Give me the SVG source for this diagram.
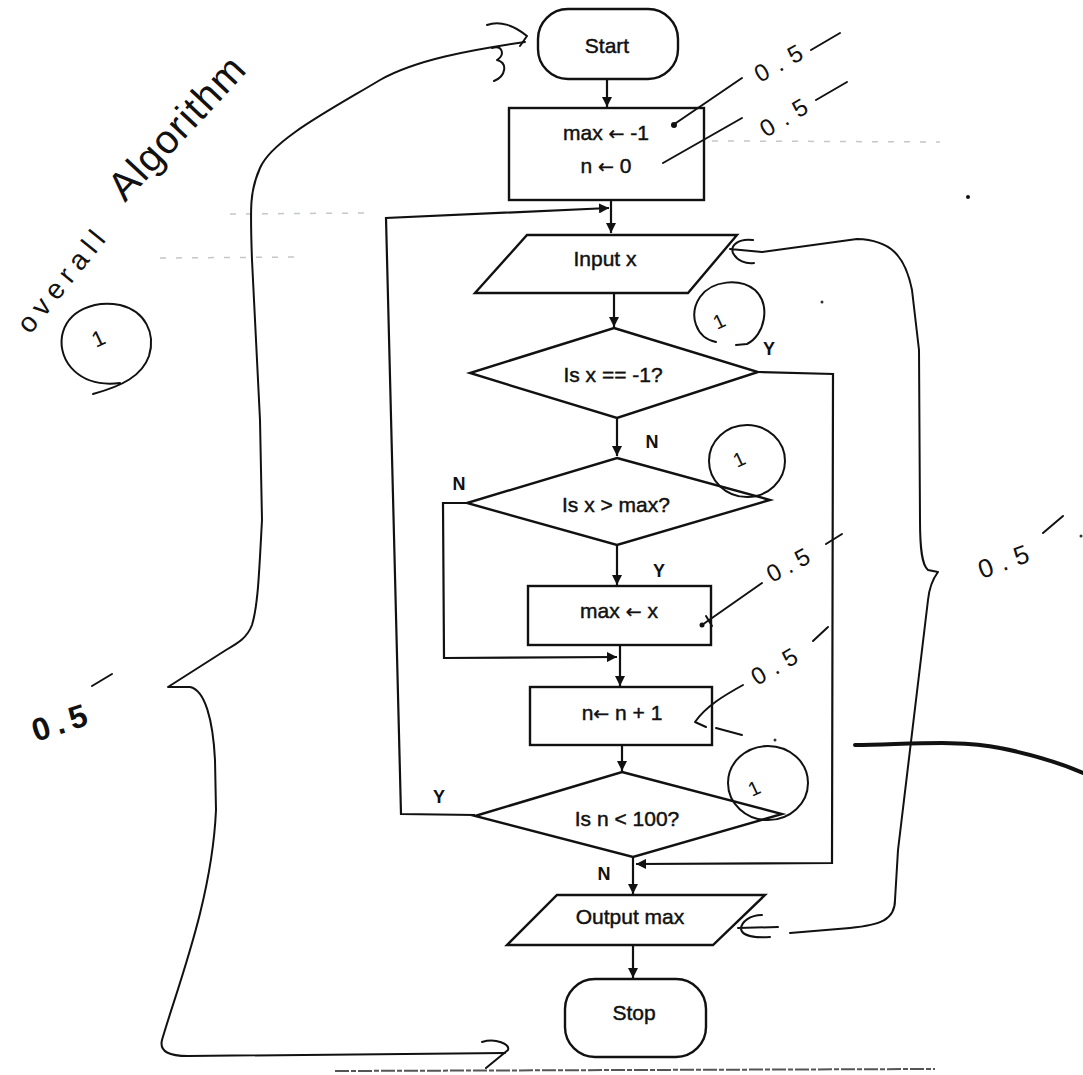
<svg xmlns="http://www.w3.org/2000/svg" width="1083" height="1075" viewBox="0 0 1083 1075">
<style>
.shape{fill:#fff;stroke:#111;stroke-width:2.4;stroke-linejoin:miter}
.lbl{font-family:"Liberation Sans",Arial,sans-serif;font-size:21px;fill:#111;text-anchor:middle;stroke:#111;stroke-width:0.45}
.arr{font-family:"DejaVu Sans",sans-serif;font-size:19px}
.yn{font-family:"Liberation Sans",Arial,sans-serif;font-size:18px;font-weight:bold;fill:#111;text-anchor:middle}
.conn{fill:none;stroke:#111;stroke-width:2.2}
.ink{fill:none;stroke:#111;stroke-width:2;stroke-linecap:round;stroke-linejoin:round}
.hand{font-family:"Liberation Sans",Arial,sans-serif;fill:#111}
.faint{fill:none;stroke:#9aa3ad;stroke-width:1.5;stroke-dasharray:6 10;opacity:0.6}
</style>
<defs>
<marker id="ah" viewBox="0 0 10 10" refX="10" refY="5" markerWidth="10" markerHeight="10" markerUnits="userSpaceOnUse" orient="auto">
<path d="M0,0 L10,5 L0,10 Z" fill="#111"/>
</marker>
</defs>
<rect width="1083" height="1075" fill="#fff"/>

<!-- scan artifacts -->
<g id="artifacts">
<path class="faint" d="M520,140 L940,142"/>
<path class="faint" d="M230,214 L367,213"/>
<path class="faint" d="M160,258 L300,257"/>
<path d="M335,1071 L935,1069" fill="none" stroke="#555" stroke-width="2" stroke-dasharray="14 2 5 2"/>
<circle cx="968" cy="197" r="2" fill="#111"/>
<circle cx="822" cy="302" r="1.5" fill="#333"/>
<circle cx="1081" cy="536" r="1.5" fill="#333"/>
<circle cx="775" cy="740" r="1.5" fill="#333"/>
<circle cx="582" cy="697" r="1.5" fill="#111"/>
</g>

<g id="connectors">
<path class="conn" d="M607,79 L607,107" marker-end="url(#ah)"/>
<path class="conn" d="M611,200 L611,233" marker-end="url(#ah)"/>
<path class="conn" d="M614,293 L614,327" marker-end="url(#ah)"/>
<path class="conn" d="M617,418 L617,456" marker-end="url(#ah)"/>
<path class="conn" d="M758,372 L833,374 L832,863 L636,864" marker-end="url(#ah)"/>
<path class="conn" d="M617,545 L617,585" marker-end="url(#ah)"/>
<path class="conn" d="M467,503 L443,503 L444,658 L617,657" marker-end="url(#ah)"/>
<path class="conn" d="M620,645 L620,686" marker-end="url(#ah)"/>
<path class="conn" d="M622,745 L622,771" marker-end="url(#ah)"/>
<path class="conn" d="M475,815 L401,814 L386,218 L609,208" marker-end="url(#ah)"/>
<path class="conn" d="M633,857 L633,894" marker-end="url(#ah)"/>
<path class="conn" d="M633,945 L633,978" marker-end="url(#ah)"/>
<text class="yn" x="769" y="355">Y</text>
<text class="yn" x="652" y="448">N</text>
<text class="yn" x="459" y="490">N</text>
<text class="yn" x="659" y="577">Y</text>
<text class="yn" x="439" y="803">Y</text>
<text class="yn" x="604" y="880">N</text>
</g>

<g id="start">
<rect class="shape" x="538" y="9" width="140" height="70" rx="30"/>
<text class="lbl" x="607" y="53">Start</text>
</g>
<g id="init">
<rect class="shape" x="509" y="108" width="195" height="92"/>
<text class="lbl" x="606" y="140">max <tspan class="arr">←</tspan> -1</text>
<text class="lbl" x="606" y="173">n <tspan class="arr">←</tspan> 0</text>
</g>
<g id="input">
<polygon class="shape" points="527,235 737,235 688,293 475,293"/>
<text class="lbl" x="605" y="266">Input x</text>
</g>
<g id="check-end">
<polygon class="shape" points="614,328 758,372 617,418 470,373"/>
<text class="lbl" x="613" y="382">Is x == -1?</text>
</g>
<g id="check-max">
<polygon class="shape" points="617,458 770,500 617,545 467,503"/>
<text class="lbl" x="616" y="512">Is x &gt; max?</text>
</g>
<g id="set-max">
<rect class="shape" x="528" y="586" width="183" height="59"/>
<text class="lbl" x="619" y="618">max <tspan class="arr">←</tspan> x</text>
</g>
<g id="inc">
<rect class="shape" x="530" y="687" width="182" height="58"/>
<text class="lbl" x="622" y="720">n<tspan class="arr">←</tspan> n + 1</text>
</g>
<g id="check-count">
<polygon class="shape" points="622,772 782,814 633,857 475,816"/>
<text class="lbl" x="627" y="826">Is n &lt; 100?</text>
</g>
<g id="output">
<polygon class="shape" points="557,895 765,895 713,945 507,945"/>
<text class="lbl" x="630" y="924">Output max</text>
</g>
<g id="stop">
<rect class="shape" x="565" y="979" width="141" height="78" rx="30"/>
<text class="lbl" x="634" y="1020">Stop</text>
</g>

<g id="annotations">
<!-- left brace -->
<path class="ink" d="M525,42 C470,50 415,60 380,80 C330,110 272,140 260,168 C250,190 250,205 252,260 L260,420 L262,520 C259,575 258,605 252,625 C247,638 238,643 226,650 L168,687 L190,687 C205,690 213,720 215,760 L216,810 C212,900 178,985 162,1040 C159,1052 170,1056 188,1056 L505,1053"/>
<path class="ink" d="M487,25 C500,20 515,26 527,36 L520,46 M492,48 C503,45 505,55 497,60 C508,63 506,76 494,81"/>
<path class="ink" d="M482,1042 C496,1038 510,1044 508,1050 L486,1068"/>
<!-- right brace -->
<path class="ink" d="M762,252 L857,239 C890,240 905,255 912,290 L919,350 L920,520 C920,550 922,565 928,570 L938,572 C932,580 929,590 928,600 L898,850 L895,900 C895,920 880,925 850,928 L790,933"/>
<path class="ink" d="M753,240 C738,238 730,246 733,253 C737,261 746,264 754,263 M730,249 L762,252"/>
<path class="ink" d="M762,915 C750,915 741,922 741,929 C742,936 755,938 770,937 M738,928 L778,927"/>
<!-- score pointers -->
<path class="ink" d="M673,125 L742,78"/>
<circle cx="674" cy="125" r="3" fill="#111"/>
<path class="ink" d="M663,163 L742,118"/>
<path class="ink" d="M702,625 L762,583 M706,616 L712,626"/>
<circle cx="702" cy="625" r="2.5" fill="#111"/>
<path class="ink" d="M743,685 C725,695 706,706 695,722 L706,727 M716,728 L742,735"/>
<path d="M855,745 C900,745 960,739 1000,748 C1040,756 1065,765 1083,773" fill="none" stroke="#111" stroke-width="4" stroke-linecap="round"/>
<!-- circled 1s -->
<path class="ink" d="M120,383 C80,388 58,362 62,336 C67,310 95,300 120,305 C145,311 156,333 149,356 C142,376 122,386 93,394"/>
<text class="hand" font-size="22" transform="translate(96,348) rotate(-25)">1</text>
<path class="ink" d="M716,342 C696,338 688,315 700,297 C712,280 740,278 755,290 C771,305 765,335 747,344 L736,345"/>
<text class="hand" font-size="20" transform="translate(717,330) rotate(-25)">1</text>
<ellipse class="ink" cx="747" cy="461" rx="38" ry="36"/>
<text class="hand" font-size="20" transform="translate(737,468) rotate(-25)">1</text>
<ellipse class="ink" cx="768" cy="783" rx="40" ry="37"/>
<text class="hand" font-size="20" transform="translate(752,797) rotate(-25)">1</text>
<!-- handwritten texts -->
<text class="hand" font-size="28" textLength="122" lengthAdjust="spacing" transform="translate(30,335) rotate(-51)">overall</text>
<text class="hand" font-size="40" textLength="180" lengthAdjust="spacing" transform="translate(125,203) rotate(-47)">Algorithm</text>
<text class="hand" font-size="24" letter-spacing="9" transform="translate(760,83) rotate(-29)">0.5</text>
<path class="ink" d="M811,50 L840,33"/>
<text class="hand" font-size="24" letter-spacing="9" transform="translate(766,138) rotate(-31)">0.5</text>
<path class="ink" d="M816,100 L847,82"/>
<text class="hand" font-size="24" letter-spacing="6" transform="translate(772,583) rotate(-28)">0.5</text>
<path class="ink" d="M826,544 L842,534"/>
<text class="hand" font-size="24" letter-spacing="8" transform="translate(757,686) rotate(-30)">0.5</text>
<path class="ink" d="M813,641 L828,627"/>
<text class="hand" font-size="26" letter-spacing="8" transform="translate(982,579) rotate(-20)">0.5</text>
<path class="ink" d="M1043,533 L1063,516"/>
<text class="hand" font-size="32" font-weight="bold" letter-spacing="6" transform="translate(36,742) rotate(-18)">0.5</text>
<path class="ink" d="M92,686 L112,674"/>
</g>
</svg>
